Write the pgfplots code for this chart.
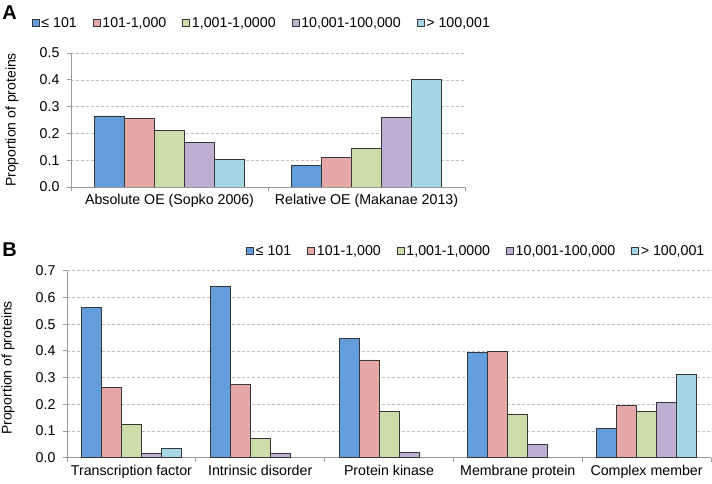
\documentclass[border=0pt]{standalone}
\usepackage{pgfplots}
\pgfplotsset{compat=1.18}
\usepackage{fontspec}
\setmainfont{Liberation Sans}
\definecolor{cblue}{RGB}{99,157,220}
\definecolor{cpink}{RGB}{229,168,166}
\definecolor{cgreen}{RGB}{205,221,170}
\definecolor{cpurple}{RGB}{190,174,210}
\definecolor{ccyan}{RGB}{164,214,228}
\definecolor{edge}{RGB}{55,55,55}
\pgfplotsset{
  common/.style={
    scale only axis,
    anchor=south west,
    ybar=0pt,
    axis x line*=bottom,
    axis y line*=left,
    axis line style={-, draw=gray!80, line width=0.8pt},
    ymin=0,
    ymajorgrids,
    grid style={densely dashed, gray!50, line width=0.5pt},
    tick align=outside,
    major tick length=4pt,
    tick style={gray!80, line width=0.8pt},
    /pgf/number format/assume math mode=true,
    /pgf/number format/fixed,
    /pgf/number format/fixed zerofill,
    /pgf/number format/precision=1,
    ticklabel style={font=\fontsize{14.2}{16}\selectfont},
    yticklabel style={xshift=-4pt},
    extra x tick style={major tick length=0pt, xticklabel style={yshift=-4pt}},
    xticklabels={},
    every axis plot/.append style={draw=edge, line width=0.7pt},
    legend columns=5,
    legend cell align=left,
    legend style={draw=none, fill=none, font=\fontsize{14.2}{16}\selectfont, anchor=west,
      /tikz/every even column/.append style={column sep=14pt},
      /tikz/every odd column/.append style={column sep=0pt},
      inner sep=0pt},
    legend image code/.code={\draw[#1, draw=edge, line width=0.6pt] (0pt,-3.5pt) rectangle (7pt,3.5pt);},
    ylabel={Proportion of proteins},
  }
}
\begin{document}
\begin{tikzpicture}
\useasboundingbox (0pt,0pt) rectangle (712pt,484pt);
\node[font=\fontsize{20}{22}\selectfont\bfseries] at (9.5pt,471.5pt) {A};
\node[font=\fontsize{20}{22}\selectfont\bfseries] at (9.5pt,234.5pt) {B};
\begin{axis}[common,
  at={(71pt,297pt)}, width=394pt, height=134pt,
  xmin=-0.5, xmax=1.5, ymax=0.5,
  ytick={0,0.1,0.2,0.3,0.4,0.5},
  xtick={-0.5,0.5,1.5},
  extra x ticks={0,1},
  extra x tick labels={Absolute OE (Sopko 2006),Relative OE (Makanae 2013)},
  bar width=30pt,
  every axis y label/.style={at={(axis description cs:-0.15,0.5)}, rotate=90, anchor=center, font=\fontsize{14}{16}\selectfont},
  legend style={at={(axis description cs:-0.100,1.224)}},
]
\addplot[fill=cblue] coordinates {(0,0.265) (1,0.082)};
\addplot[fill=cpink] coordinates {(0,0.255) (1,0.110)};
\addplot[fill=cgreen] coordinates {(0,0.212) (1,0.145)};
\addplot[fill=cpurple] coordinates {(0,0.166) (1,0.261)};
\addplot[fill=ccyan] coordinates {(0,0.104) (1,0.402)};
\legend{{≤ 101},{101-1,000},{1,001-1,0000},{10,001-100,000},{> 100,001}}
\end{axis}
\begin{axis}[common,
  at={(67pt,26.3pt)}, width=644pt, height=187pt,
  xmin=-0.5, xmax=4.5, ymax=0.7,
  ytick={0,0.1,0.2,0.3,0.4,0.5,0.6,0.7},
  xtick={-0.5,0.5,1.5,2.5,3.5,4.5},
  extra x ticks={0,1,2,3,4},
  extra x tick labels={Transcription factor,Intrinsic disorder,Protein kinase,Membrane protein,Complex member},
  bar width=20pt,
  every axis y label/.style={at={(axis description cs:-0.0916,0.48)}, rotate=90, anchor=center, font=\fontsize{14}{16}\selectfont},
  legend style={at={(axis description cs:0.278,1.105)}},
]
\addplot[fill=cblue] coordinates {(0,0.564) (1,0.642) (2,0.445) (3,0.395) (4,0.111)};
\addplot[fill=cpink] coordinates {(0,0.262) (1,0.273) (2,0.366) (3,0.398) (4,0.197)};
\addplot[fill=cgreen] coordinates {(0,0.124) (1,0.071) (2,0.172) (3,0.164) (4,0.175)};
\addplot[fill=cpurple] coordinates {(0,0.016) (1,0.016) (2,0.020) (3,0.049) (4,0.207)};
\addplot[fill=ccyan] coordinates {(0,0.035) (4,0.312)};
\legend{{≤ 101},{101-1,000},{1,001-1,0000},{10,001-100,000},{> 100,001}}
\end{axis}
\end{tikzpicture}
\end{document}
